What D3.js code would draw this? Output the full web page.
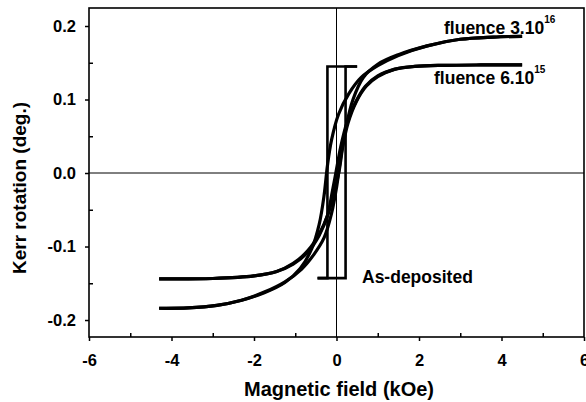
<!DOCTYPE html>
<html><head><meta charset="utf-8">
<script src="https://cdn.jsdelivr.net/npm/d3@7"></script>
<style>body{margin:0;background:#fff}svg{display:block}text{font-family:"Liberation Sans",Arial,sans-serif;font-weight:bold;fill:#000}</style>
</head><body>
<script>
// ---- data ----
const xTicks = [-6, -4, -2, 0, 2, 4, 6];
const xTickLabels = ["-6", "-4", "-2", "0", "2", "4", "6"];
const xMinor = [-5, -3, -1, 1, 3, 5];
const yTicks = [-0.2, -0.1, 0.0, 0.1, 0.2];
const yMinor = [-0.15, -0.05, 0.05, 0.15];
const yTickLabels = ["-0.2", "-0.1", "0.0", "0.1", "0.2"];

// fluence 3.10^16 — descending and ascending field branches [field kOe, Kerr deg]
const f16Down = [[4.5,0.186],[3.8,0.185],[3.0,0.182],[2.2,0.173],[1.5,0.16],[1.0,0.146],[0.6,0.13],[0.3,0.108],[0.05,0.08],[-0.12,0.045],[-0.22,0.01],[-0.3,-0.03],[-0.42,-0.07],[-0.6,-0.103],[-0.88,-0.13],[-1.25,-0.149],[-1.75,-0.163],[-2.3,-0.173],[-2.9,-0.18],[-3.6,-0.1835],[-4.3,-0.184]];
const f16Up = [[-4.3,-0.184],[-3.6,-0.1835],[-2.9,-0.18],[-2.3,-0.173],[-1.75,-0.162],[-1.25,-0.148],[-0.85,-0.131],[-0.55,-0.111],[-0.3,-0.088],[-0.12,-0.055],[0.0,-0.02],[0.1,0.02],[0.22,0.06],[0.4,0.1],[0.65,0.13],[1.0,0.148],[1.5,0.161],[2.2,0.173],[3.0,0.182],[3.8,0.185],[4.5,0.186]];
// fluence 6.10^15
const f15Down = [[4.5,0.147],[3.5,0.147],[2.6,0.1465],[1.9,0.145],[1.4,0.141],[1.0,0.132],[0.7,0.118],[0.45,0.095],[0.25,0.068],[0.1,0.035],[0.0,0.005],[-0.1,-0.025],[-0.22,-0.058],[-0.42,-0.085],[-0.7,-0.108],[-1.05,-0.124],[-1.45,-0.134],[-2.0,-0.14],[-3.0,-0.1435],[-4.3,-0.144]];
const f15Up = [[-4.3,-0.144],[-3.0,-0.1435],[-2.0,-0.14],[-1.45,-0.134],[-1.05,-0.123],[-0.7,-0.106],[-0.42,-0.083],[-0.2,-0.055],[-0.05,-0.025],[0.07,0.005],[0.15,0.035],[0.28,0.068],[0.48,0.097],[0.72,0.118],[1.0,0.131],[1.4,0.141],[1.9,0.145],[2.6,0.1465],[3.5,0.147],[4.5,0.147]];
// as-deposited square loop
const asDepDown = [[0.5,0.145],[-0.22,0.145],[-0.22,-0.143],[-0.46,-0.143]];
const asDepUp = [[-0.46,-0.143],[0.22,-0.143],[0.22,0.145],[0.5,0.145]];

// ---- layout ----
const W = 586, H = 402;
const L = 89, R = 584, T = 8, B = 337;
const svg = d3.select("body").append("svg").attr("width", W).attr("height", H);
const x = d3.scaleLinear().domain([-6, 6]).range([L, R]);
const y = d3.scaleLinear().domain([-0.2231, 0.2245]).range([B, T]);

// zero lines
svg.append("line").attr("x1", x(0)).attr("x2", x(0)).attr("y1", T).attr("y2", B).attr("stroke", "#000").attr("stroke-width", 1);
svg.append("line").attr("x1", L).attr("x2", R).attr("y1", y(0)).attr("y2", y(0)).attr("stroke", "#000").attr("stroke-width", 1);

// axes
const ax = svg.append("g").attr("transform", `translate(0,${B})`)
  .call(d3.axisBottom(x).tickValues(xTicks).tickSize(4).tickFormat((d, i) => xTickLabels[i]));
const axm = svg.append("g").attr("transform", `translate(0,${B})`)
  .call(d3.axisTop(x).tickValues(xMinor).tickSize(4).tickFormat(""));
const ay = svg.append("g").attr("transform", `translate(${L},0)`)
  .call(d3.axisLeft(y).tickValues(yTicks).tickSize(4).tickFormat((d, i) => yTickLabels[i]));
const aym = svg.append("g").attr("transform", `translate(${L},0)`)
  .call(d3.axisRight(y).tickValues(yMinor).tickSize(4).tickFormat(""));
[ax, axm, ay, aym].forEach(g => {
  g.select(".domain").remove();
  g.selectAll(".tick line").attr("stroke", "#000").attr("stroke-width", 1.5);
});
ax.selectAll("text").attr("font-size", 16.5).attr("dy", "0.71em").attr("y", 17);
ay.selectAll("text").attr("font-size", 16.5).attr("x", -13);

// frame
svg.append("rect").attr("x", L).attr("y", T).attr("width", R - L).attr("height", B - T)
  .attr("fill", "none").attr("stroke", "#000").attr("stroke-width", 1.6);

// curves
const lineLin = d3.line().x(d => x(d[0])).y(d => y(d[1]));
const lineC = d3.line().x(d => x(d[0])).y(d => y(d[1])).curve(d3.curveCatmullRom.alpha(0.5));
[f16Down, f16Up, f15Down, f15Up].forEach(s => {
  svg.append("path").attr("d", lineC(s)).attr("fill", "none").attr("stroke", "#000").attr("stroke-width", 3.2).attr("stroke-linejoin", "round");
});
[asDepDown, asDepUp].forEach(s => {
  svg.append("path").attr("d", lineLin(s)).attr("fill", "none").attr("stroke", "#000").attr("stroke-width", 2.6);
});

// annotations
const t1 = svg.append("text").attr("x", 444).attr("y", 34).attr("font-size", 17.5);
t1.append("tspan").text("fluence 3.10");
t1.append("tspan").attr("font-size", 10).attr("dy", -11).text("16");
const t2 = svg.append("text").attr("x", 434).attr("y", 84).attr("font-size", 17.5);
t2.append("tspan").text("fluence 6.10");
t2.append("tspan").attr("font-size", 10).attr("dy", -11).text("15");
svg.append("text").attr("x", 362).attr("y", 283).attr("font-size", 17.5).text("As-deposited");

// axis titles
svg.append("text").attr("x", 339).attr("y", 396).attr("text-anchor", "middle").attr("font-size", 20).text("Magnetic field (kOe)");
svg.append("text").attr("transform", "translate(26,188) rotate(-90)").attr("text-anchor", "middle").attr("font-size", 19).text("Kerr rotation (deg.)");
</script>
</body></html>
